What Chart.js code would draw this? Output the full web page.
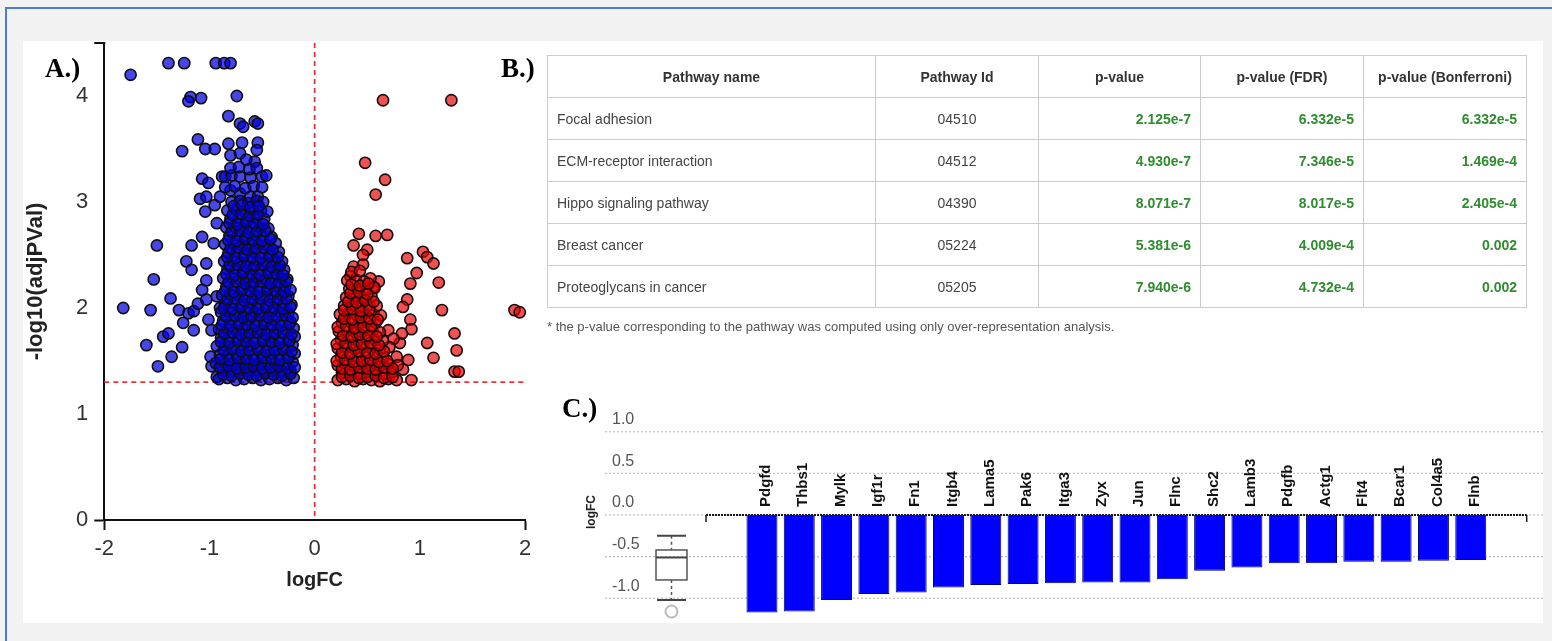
<!DOCTYPE html>
<html>
<head>
<meta charset="utf-8">
<script src="https://cdn.jsdelivr.net/npm/chart.js@4.4.0/dist/chart.umd.min.js"></script>
<style>
html,body{margin:0;padding:0;}
body{width:1552px;height:641px;background:#f2f2f2;position:relative;overflow:hidden;font-family:"Liberation Sans",Arial,sans-serif;}
#bl{position:absolute;left:5px;top:7px;width:2px;height:634px;background:#4a7ed6;}
#bt{position:absolute;left:5px;top:7px;width:1547px;height:2px;background:#4a7ed6;}
#panel{position:absolute;left:23px;top:41px;width:1520px;height:582px;background:#fff;}
.lbl{position:absolute;font-family:"Liberation Serif","Times New Roman",serif;font-weight:bold;font-size:27px;line-height:27px;color:#000;white-space:nowrap;}
canvas{position:absolute;}
#volcano{left:23px;top:41px;}
#bars{left:560px;top:395px;}
#tbl{position:absolute;left:547px;top:55px;width:979px;border-collapse:collapse;table-layout:fixed;font-size:14px;}
#tbl td,#tbl th{border:1px solid #cbcbcb;height:42px;padding:0 9px;box-sizing:border-box;white-space:nowrap;}
#tbl th{font-weight:bold;color:#333;text-align:center;}
#tbl td{color:#444;}
#tbl td.id{text-align:center;}
#tbl td.v{text-align:right;color:#2f8c2f;font-weight:bold;}
#note{position:absolute;left:547px;top:319px;font-size:13px;line-height:15px;color:#555;white-space:nowrap;}
</style>
</head>
<body>
<div id="bl"></div><div id="bt"></div>
<div id="panel"></div>
<canvas id="volcano" width="530" height="582"></canvas>
<canvas id="bars" width="983" height="228"></canvas>
<table id="tbl"><colgroup><col style="width:328px"><col style="width:163px"><col style="width:162px"><col style="width:163px"><col style="width:163px"></colgroup><thead><tr id="hdr"></tr></thead><tbody id="tb"></tbody></table>
<div id="note"></div>
<div class="lbl" style="left:45px;top:55px;">A.)</div>
<div class="lbl" style="left:501px;top:55px;">B.)</div>
<div class="lbl" style="left:562px;top:395px;">C.)</div>
<script>
// ---------------- Panel A: volcano data (logFC, -log10 adjusted p) ----------------
const downRegulated = [
[-1.75,4.20],[-1.39,4.31],[-1.24,4.31],[-0.94,4.31],[-0.86,4.31],[-0.80,4.31],
[-1.18,3.99],[-1.08,3.98],[-1.20,3.95],[-0.74,4.00],
[-0.82,3.81],[-0.71,3.74],[-0.57,3.76],[-0.54,3.74],[-0.68,3.71],
[-1.11,3.59],[-1.26,3.48],[-1.04,3.50],[-0.95,3.50],[-0.82,3.55],[-0.69,3.56],[-0.54,3.56],
[-0.80,3.44],[-0.71,3.46],[-0.57,3.38],[-0.55,3.49],[-0.65,3.40],
[-0.88,3.24],[-0.85,3.24],[-0.79,3.25],[-0.71,3.24],[-0.61,3.23],[-0.50,3.24],[-0.46,3.25],
[-1.07,3.22],[-1.01,3.18],[-1.09,3.03],[-1.03,3.05],[-1.04,2.91],[-0.95,2.97],[-0.90,3.05],
[-0.80,3.11],[-0.71,3.08],[-0.61,3.05],[-0.54,3.05],[-0.93,2.80],
[-1.82,2.00],[-1.50,2.59],[-1.53,2.27],[-1.56,1.98],[-1.60,1.65],[-1.49,1.45],[-1.36,1.54],
[-1.26,1.63],[-1.44,1.73],[-1.39,1.76],[-1.37,2.09],[-1.29,1.98],[-1.20,1.95],[-1.15,1.97],
[-1.11,2.04],[-1.03,2.08],[-1.22,2.44],[-1.17,2.36],[-1.17,2.59],[-1.07,2.67],[-1.25,1.86],
[-1.15,1.79],[-1.01,1.89],[-0.98,1.79],[-1.03,2.26],[-1.03,2.42],[-0.96,2.61],[-1.07,2.17],
[-0.99,1.54],[-0.98,1.45],[-0.90,2.00],[-0.93,2.11],[-0.93,1.35],
[-0.91,1.33],[-0.83,1.34],[-0.75,1.32],[-0.67,1.33],[-0.59,1.34],[-0.51,1.32],[-0.43,1.33],[-0.35,1.34],[-0.27,1.32],[-0.20,1.34],
[-0.87,1.41],[-0.79,1.40],[-0.71,1.42],[-0.63,1.40],[-0.55,1.41],[-0.47,1.40],[-0.39,1.42],[-0.31,1.40],[-0.23,1.41],
[-0.94,1.48],[-0.86,1.49],[-0.78,1.47],[-0.70,1.49],[-0.62,1.48],[-0.54,1.47],[-0.46,1.49],[-0.38,1.48],[-0.30,1.47],[-0.21,1.49],
[-0.90,1.56],[-0.82,1.57],[-0.74,1.55],[-0.66,1.57],[-0.58,1.56],[-0.50,1.55],[-0.42,1.57],[-0.34,1.56],[-0.26,1.55],[-0.19,1.57],
[-0.93,1.64],[-0.85,1.65],[-0.77,1.63],[-0.69,1.65],[-0.61,1.64],[-0.53,1.63],[-0.45,1.65],[-0.37,1.64],[-0.29,1.63],[-0.21,1.65],
[-0.89,1.72],[-0.81,1.73],[-0.73,1.71],[-0.65,1.73],[-0.57,1.72],[-0.49,1.71],[-0.41,1.73],[-0.33,1.72],[-0.25,1.71],[-0.19,1.73],
[-0.91,1.80],[-0.83,1.81],[-0.75,1.79],[-0.67,1.81],[-0.59,1.80],[-0.51,1.79],[-0.43,1.81],[-0.35,1.80],[-0.27,1.79],[-0.20,1.81],
[-0.87,1.88],[-0.79,1.89],[-0.71,1.87],[-0.63,1.89],[-0.55,1.88],[-0.47,1.87],[-0.39,1.89],[-0.31,1.88],[-0.23,1.87],
[-0.89,1.96],[-0.81,1.97],[-0.73,1.95],[-0.65,1.97],[-0.57,1.96],[-0.49,1.95],[-0.41,1.97],[-0.33,1.96],[-0.25,1.95],
[-0.85,2.04],[-0.77,2.05],[-0.69,2.03],[-0.61,2.05],[-0.53,2.04],[-0.45,2.03],[-0.37,2.05],[-0.29,2.04],[-0.22,2.03],
[-0.88,2.12],[-0.80,2.13],[-0.72,2.11],[-0.64,2.13],[-0.56,2.12],[-0.48,2.11],[-0.40,2.13],[-0.32,2.12],[-0.25,2.11],
[-0.84,2.20],[-0.76,2.21],[-0.68,2.19],[-0.60,2.21],[-0.52,2.20],[-0.44,2.19],[-0.36,2.21],[-0.28,2.20],
[-0.87,2.28],[-0.79,2.29],[-0.71,2.27],[-0.63,2.29],[-0.55,2.28],[-0.47,2.27],[-0.39,2.29],[-0.32,2.28],[-0.26,2.27],
[-0.83,2.36],[-0.75,2.37],[-0.67,2.35],[-0.59,2.37],[-0.51,2.36],[-0.43,2.35],[-0.35,2.37],[-0.29,2.36],
[-0.86,2.44],[-0.78,2.45],[-0.70,2.43],[-0.62,2.45],[-0.54,2.44],[-0.46,2.43],[-0.38,2.45],[-0.31,2.44],
[-0.82,2.52],[-0.74,2.53],[-0.66,2.51],[-0.58,2.53],[-0.50,2.52],[-0.42,2.51],[-0.34,2.53],
[-0.85,2.60],[-0.77,2.61],[-0.69,2.59],[-0.61,2.61],[-0.53,2.60],[-0.45,2.59],[-0.37,2.61],
[-0.81,2.68],[-0.73,2.69],[-0.65,2.67],[-0.57,2.69],[-0.49,2.68],[-0.41,2.67],
[-0.84,2.76],[-0.76,2.77],[-0.68,2.75],[-0.60,2.77],[-0.52,2.76],[-0.44,2.75],
[-0.80,2.84],[-0.72,2.85],[-0.64,2.83],[-0.56,2.85],[-0.48,2.84],
[-0.83,2.92],[-0.75,2.93],[-0.67,2.91],[-0.59,2.93],[-0.51,2.92],[-0.45,2.91],
[-0.79,3.00],[-0.71,3.01],[-0.63,2.99],[-0.55,3.01],[-0.49,3.00],
[-0.85,3.14],[-0.76,3.15],[-0.66,3.13],[-0.58,3.15],[-0.50,3.14],
[-0.80,3.32],[-0.72,3.33],[-0.62,3.31],[-0.55,3.32],
[-0.87,1.37],[-0.79,1.36],[-0.71,1.38],[-0.63,1.37],[-0.55,1.36],[-0.47,1.38],[-0.39,1.37],[-0.31,1.36],[-0.23,1.38],
[-0.90,1.44],[-0.82,1.45],[-0.74,1.43],[-0.66,1.44],[-0.58,1.45],[-0.50,1.43],[-0.42,1.44],[-0.34,1.45],[-0.26,1.43],[-0.19,1.44],
[-0.89,1.52],[-0.81,1.51],[-0.73,1.53],[-0.65,1.52],[-0.57,1.51],[-0.49,1.53],[-0.41,1.52],[-0.33,1.51],[-0.25,1.53],
[-0.86,1.60],[-0.78,1.61],[-0.70,1.59],[-0.62,1.60],[-0.54,1.61],[-0.46,1.59],[-0.38,1.60],[-0.30,1.61],[-0.22,1.59],
[-0.89,1.68],[-0.81,1.67],[-0.73,1.69],[-0.65,1.68],[-0.57,1.67],[-0.49,1.69],[-0.41,1.68],[-0.33,1.67],[-0.24,1.69],
[-0.86,1.76],[-0.78,1.77],[-0.70,1.75],[-0.62,1.76],[-0.54,1.77],[-0.46,1.75],[-0.38,1.76],[-0.30,1.77],[-0.22,1.75],
[-0.88,1.84],[-0.80,1.83],[-0.72,1.85],[-0.64,1.84],[-0.56,1.83],[-0.48,1.85],[-0.40,1.84],[-0.32,1.83],[-0.24,1.85],
[-0.84,1.92],[-0.76,1.93],[-0.68,1.91],[-0.60,1.92],[-0.52,1.93],[-0.44,1.91],[-0.36,1.92],[-0.28,1.93],[-0.21,1.91],
[-0.86,2.00],[-0.78,1.99],[-0.70,2.01],[-0.62,2.00],[-0.54,1.99],[-0.46,2.01],[-0.38,2.00],[-0.30,1.99],[-0.23,2.01],
[-0.83,2.08],[-0.75,2.09],[-0.67,2.07],[-0.59,2.08],[-0.51,2.09],[-0.43,2.07],[-0.35,2.08],[-0.27,2.09],
[-0.85,2.16],[-0.77,2.15],[-0.69,2.17],[-0.61,2.16],[-0.53,2.15],[-0.45,2.17],[-0.37,2.16],[-0.29,2.15],[-0.23,2.17],
[-0.82,2.24],[-0.74,2.25],[-0.66,2.23],[-0.58,2.24],[-0.50,2.25],[-0.42,2.23],[-0.34,2.24],[-0.27,2.25],
[-0.84,2.32],[-0.76,2.31],[-0.68,2.33],[-0.60,2.32],[-0.52,2.31],[-0.44,2.33],[-0.36,2.32],[-0.30,2.31],
[-0.81,2.40],[-0.73,2.41],[-0.65,2.39],[-0.57,2.40],[-0.49,2.41],[-0.41,2.39],[-0.33,2.40],
[-0.83,2.48],[-0.75,2.47],[-0.67,2.49],[-0.59,2.48],[-0.51,2.47],[-0.43,2.49],[-0.35,2.48],
[-0.80,2.56],[-0.72,2.57],[-0.64,2.55],[-0.56,2.56],[-0.48,2.57],[-0.40,2.55],
[-0.82,2.64],[-0.74,2.63],[-0.66,2.65],[-0.58,2.64],[-0.50,2.63],[-0.42,2.65],
[-0.79,2.72],[-0.71,2.73],[-0.63,2.71],[-0.55,2.72],[-0.47,2.73],
[-0.81,2.80],[-0.73,2.79],[-0.65,2.81],[-0.57,2.80],[-0.49,2.79],
[-0.78,2.88],[-0.70,2.89],[-0.62,2.87],[-0.54,2.88],
[-0.77,2.96],[-0.69,2.97],[-0.61,2.95],[-0.53,2.96]
];
const upRegulated = [
[0.65,3.96],[1.30,3.96],[0.48,3.37],[0.67,3.21],[0.58,3.07],
[0.42,2.70],[0.58,2.68],[0.69,2.69],[0.37,2.59],[0.50,2.55],[0.46,2.50],
[0.88,2.47],[1.03,2.53],[1.07,2.48],[1.13,2.42],[0.97,2.33],[0.91,2.23],[1.18,2.24],
[0.88,2.08],[0.84,2.01],[1.21,1.98],[1.90,1.98],[1.95,1.96],[0.91,1.89],[0.92,1.80],
[1.07,1.67],[1.33,1.76],[1.35,1.60],[1.33,1.40],[1.37,1.40],[1.13,1.53],[0.92,1.32],
[0.81,1.67],[0.83,1.76],[0.89,1.51],[0.70,1.79],[0.75,1.71],[0.61,2.25],[0.56,2.20],
[0.46,2.41],[0.37,2.39],[0.34,2.30],[0.53,2.28],[0.84,1.42],[0.78,1.54],
[0.22,1.32],[0.30,1.33],[0.38,1.31],[0.46,1.33],[0.54,1.32],[0.62,1.31],[0.70,1.33],[0.78,1.32],
[0.26,1.39],[0.34,1.40],[0.42,1.38],[0.50,1.40],[0.58,1.39],[0.66,1.38],[0.74,1.40],
[0.22,1.46],[0.30,1.47],[0.38,1.45],[0.46,1.47],[0.54,1.46],[0.62,1.45],[0.70,1.47],[0.79,1.46],
[0.25,1.54],[0.33,1.55],[0.41,1.53],[0.49,1.55],[0.57,1.54],[0.65,1.53],
[0.22,1.62],[0.30,1.63],[0.38,1.61],[0.46,1.63],[0.54,1.62],[0.62,1.61],[0.71,1.63],
[0.25,1.70],[0.33,1.71],[0.41,1.69],[0.49,1.71],[0.57,1.70],[0.65,1.69],
[0.23,1.78],[0.31,1.79],[0.39,1.77],[0.47,1.79],[0.55,1.78],[0.62,1.77],
[0.26,1.86],[0.34,1.87],[0.42,1.85],[0.50,1.87],[0.58,1.86],
[0.24,1.94],[0.32,1.95],[0.40,1.93],[0.48,1.95],[0.56,1.94],[0.63,1.93],
[0.28,2.02],[0.36,2.03],[0.44,2.01],[0.52,2.03],[0.59,2.02],
[0.30,2.10],[0.38,2.11],[0.46,2.09],[0.54,2.11],
[0.33,2.18],[0.41,2.19],[0.49,2.17],[0.57,2.19],
[0.31,2.26],[0.39,2.27],[0.47,2.25],
[0.35,2.34],[0.43,2.35],
[0.26,1.35],[0.34,1.36],[0.42,1.34],[0.50,1.35],[0.58,1.36],[0.66,1.34],[0.74,1.35],
[0.26,1.43],[0.34,1.42],[0.42,1.44],[0.50,1.43],[0.58,1.42],[0.66,1.44],[0.74,1.43],
[0.21,1.50],[0.29,1.51],[0.37,1.49],[0.45,1.50],[0.53,1.51],[0.61,1.49],[0.69,1.50],
[0.26,1.58],[0.34,1.57],[0.42,1.59],[0.50,1.58],[0.58,1.57],[0.66,1.59],
[0.21,1.66],[0.29,1.67],[0.37,1.65],[0.45,1.66],[0.53,1.67],[0.61,1.65],
[0.27,1.74],[0.35,1.73],[0.43,1.75],[0.51,1.74],[0.59,1.73],
[0.22,1.82],[0.30,1.83],[0.38,1.81],[0.46,1.82],[0.54,1.83],
[0.28,1.90],[0.36,1.89],[0.44,1.91],[0.52,1.90],[0.60,1.89],
[0.28,1.98],[0.36,1.99],[0.44,1.97],[0.52,1.98],
[0.32,2.06],[0.40,2.05],[0.48,2.07],[0.56,2.06],
[0.34,2.14],[0.42,2.15],[0.50,2.13],
[0.35,2.22],[0.43,2.21],[0.51,2.23]
];
const pThreshold = 1.3;      // -log10(0.05)
const fcThreshold = 0;

// ---------------- Panel B: KEGG pathway table ----------------
const tableHeaders = ['Pathway name','Pathway Id','p-value','p-value (FDR)','p-value (Bonferroni)'];
const pathwayNames = ['Focal adhesion','ECM-receptor interaction','Hippo signaling pathway','Breast cancer','Proteoglycans in cancer'];
const pathwayIds = ['04510','04512','04390','05224','05205'];
const pValues = ['2.125e-7','4.930e-7','8.071e-7','5.381e-6','7.940e-6'];
const fdrValues = ['6.332e-5','7.346e-5','8.017e-5','4.009e-4','4.732e-4'];
const bonferroniValues = ['6.332e-5','1.469e-4','2.405e-4','0.002','0.002'];
const footnote = '* the p-value corresponding to the pathway was computed using only over-representation analysis.';

// ---------------- Panel C: gene logFC bars ----------------
const genes = ['Pdgfd','Thbs1','Mylk','Igf1r','Fn1','Itgb4','Lama5','Pak6','Itga3','Zyx','Jun','Flnc','Shc2','Lamb3','Pdgfb','Actg1','Flt4','Bcar1','Col4a5','Flnb'];
const geneLogFC = [-1.17,-1.16,-1.02,-0.95,-0.93,-0.87,-0.84,-0.83,-0.82,-0.81,-0.81,-0.77,-0.67,-0.63,-0.58,-0.58,-0.56,-0.56,-0.55,-0.54];
const boxSummary = [-1.02,-0.78,-0.51,-0.42,-0.25]; // low whisker, Q1, median, Q3, high whisker
const boxOutliers = [-1.16];

// ---------------- build table ----------------
document.getElementById('hdr').innerHTML = tableHeaders.map(h => '<th>' + h + '</th>').join('');
document.getElementById('tb').innerHTML = pathwayNames.map((n, i) =>
  '<tr><td>' + n + '</td><td class="id">' + pathwayIds[i] + '</td><td class="v">' + pValues[i] +
  '</td><td class="v">' + fdrValues[i] + '</td><td class="v">' + bonferroniValues[i] + '</td></tr>').join('');
document.getElementById('note').textContent = footnote;

Chart.defaults.font.family = '"Liberation Sans", Arial, sans-serif';

// ---------------- volcano chart ----------------
const volcanoGuides = {
  id: 'volcanoGuides',
  beforeDatasetsDraw(chart) {
    const {ctx, chartArea, scales: {x, y}} = chart;
    ctx.save();
    ctx.strokeStyle = '#e4343c';
    ctx.lineWidth = 1.8;
    ctx.setLineDash([5, 4]);
    const yy = y.getPixelForValue(pThreshold);
    ctx.beginPath(); ctx.moveTo(x.getPixelForValue(x.min), yy); ctx.lineTo(x.getPixelForValue(x.max), yy); ctx.stroke();
    const xx = x.getPixelForValue(fcThreshold);
    ctx.beginPath(); ctx.moveTo(xx, chartArea.top); ctx.lineTo(xx, chartArea.bottom); ctx.stroke();
    ctx.restore();
  },
  afterDraw(chart) {
    const {ctx, chartArea, scales: {y}} = chart;
    ctx.save();
    ctx.strokeStyle = '#111';
    ctx.lineWidth = 2;
    const yt = y.getPixelForValue(y.max);
    ctx.beginPath(); ctx.moveTo(chartArea.left - 10, yt); ctx.lineTo(chartArea.left + 1, yt); ctx.stroke();
    ctx.restore();
  }
};

new Chart(document.getElementById('volcano'), {
  type: 'scatter',
  data: {
    datasets: [
      {data: downRegulated.map(p => ({x: p[0], y: p[1]})), backgroundColor: 'rgba(0,0,225,0.72)', borderColor: '#101010', borderWidth: 1.6, pointRadius: 5.6, clip: false},
      {data: upRegulated.map(p => ({x: p[0], y: p[1]})), backgroundColor: 'rgba(230,0,0,0.68)', borderColor: '#1a0c0c', borderWidth: 1.6, pointRadius: 5.6, clip: false}
    ]
  },
  options: {
    responsive: false, animation: false, events: [],
    layout: {autoPadding: false, padding: {left: 0, top: 2, right: 28, bottom: 0}},
    plugins: {legend: {display: false}, tooltip: {enabled: false}},
    scales: {
      x: {
        type: 'linear', min: -2, max: 2,
        ticks: {stepSize: 1, includeBounds: false, color: '#333', font: {size: 22}, padding: 6},
        grid: {drawOnChartArea: false, drawTicks: true, tickLength: 10, tickWidth: 2,
               tickColor: c => (c.tick && Math.abs(Math.abs(c.tick.value) - 2) < 1e-9) ? '#111' : 'rgba(0,0,0,0)'},
        border: {display: true, color: '#111', width: 2},
        title: {display: true, text: 'logFC', color: '#222', font: {size: 20, weight: 'bold'}, padding: {top: 0, bottom: 31}},
        afterFit: s => { s.height = 103; }
      },
      y: {
        type: 'linear', min: 0, max: 4.5,
        ticks: {stepSize: 1, includeBounds: false, color: '#333', font: {size: 22}, padding: 6},
        grid: {drawOnChartArea: false, drawTicks: true, tickLength: 10, tickWidth: 2,
               tickColor: c => (c.tick && c.tick.value === 0) ? '#111' : 'rgba(0,0,0,0)'},
        border: {display: true, color: '#111', width: 2},
        title: {display: true, text: '-log10(adjPVal)', color: '#222', font: {size: 22, weight: 'bold'}, padding: {top: 0, bottom: 0}},
        afterFit: s => { s.width = 81.3; s.paddingTop = 0; s.paddingBottom = 0; }
      }
    }
  },
  plugins: [volcanoGuides]
});

// ---------------- bar chart ----------------
const barDecor = {
  id: 'barDecor',
  beforeDatasetsDraw(chart) {
    const {ctx, chartArea, scales: {y}} = chart;
    ctx.save();
    ctx.strokeStyle = '#c2c2c2';
    ctx.lineWidth = 1.3;
    ctx.setLineDash([2, 2]);
    y.ticks.forEach(t => {
      const py = y.getPixelForValue(t.value);
      ctx.beginPath(); ctx.moveTo(chartArea.left - 101, py); ctx.lineTo(chart.width, py); ctx.stroke();
    });
    const y0 = y.getPixelForValue(0);
    ctx.strokeStyle = '#1a1a1a';
    ctx.lineWidth = 2;
    ctx.setLineDash([2, 1]);
    ctx.beginPath(); ctx.moveTo(chartArea.left, y0); ctx.lineTo(chartArea.right, y0); ctx.stroke();
    ctx.setLineDash([]);
    ctx.lineWidth = 1.5;
    [chartArea.left, chartArea.right].forEach(px => { ctx.beginPath(); ctx.moveTo(px, y0); ctx.lineTo(px, y0 + 7); ctx.stroke(); });

    // box plot of logFC distribution
    const cx = chartArea.left - 34.5;
    const bw = 31, cw = 29;
    const [lo, q1, med, q3, hi] = boxSummary.map(v => y.getPixelForValue(v));
    ctx.strokeStyle = '#555';
    ctx.lineWidth = 1.5;
    ctx.setLineDash([3, 3]);
    ctx.beginPath(); ctx.moveTo(cx, hi); ctx.lineTo(cx, q3); ctx.moveTo(cx, q1); ctx.lineTo(cx, lo); ctx.stroke();
    ctx.setLineDash([]);
    ctx.strokeRect(cx - bw / 2, q3, bw, q1 - q3);
    ctx.lineWidth = 2;
    ctx.strokeStyle = '#444';
    ctx.beginPath(); ctx.moveTo(cx - bw / 2, med); ctx.lineTo(cx + bw / 2, med); ctx.stroke();
    ctx.beginPath(); ctx.moveTo(cx - cw / 2, hi); ctx.lineTo(cx + cw / 2, hi); ctx.moveTo(cx - cw / 2, lo); ctx.lineTo(cx + cw / 2, lo); ctx.stroke();
    ctx.strokeStyle = '#bbb';
    boxOutliers.forEach(v => { ctx.beginPath(); ctx.arc(cx, y.getPixelForValue(v), 6, 0, Math.PI * 2); ctx.stroke(); });
    ctx.restore();
  },
  afterDatasetsDraw(chart) {
    const {ctx, scales: {x, y}} = chart;
    const y0 = y.getPixelForValue(0);
    ctx.save();
    ctx.fillStyle = '#111';
    ctx.font = 'bold 15px "Liberation Sans", Arial, sans-serif';
    ctx.textAlign = 'left';
    ctx.textBaseline = 'middle';
    genes.forEach((g, i) => {
      const px = x.getPixelForValue(i + 1);
      ctx.save();
      ctx.translate(px + 4, y0 - 8);
      ctx.rotate(-Math.PI / 2);
      ctx.fillText(g, 0, 0);
      ctx.restore();
    });
    // y axis title
    ctx.font = 'bold 12px "Liberation Sans", Arial, sans-serif';
    ctx.fillStyle = '#222';
    ctx.textAlign = 'center';
    ctx.translate(32, 117);
    ctx.rotate(-Math.PI / 2);
    ctx.fillText('logFC', 0, 0);
    ctx.restore();
  }
};

new Chart(document.getElementById('bars'), {
  type: 'bar',
  data: {
    labels: [''].concat(genes, ['']),
    datasets: [{
      data: [null].concat(geneLogFC, [null]),
      backgroundColor: '#0000ff', borderColor: '#00006e', borderWidth: 1,
      barPercentage: 0.83, categoryPercentage: 1
    }]
  },
  options: {
    responsive: false, animation: false, events: [],
    layout: {padding: {left: 52, top: 28.4, right: 16.3, bottom: 3.9}},
    plugins: {legend: {display: false}, tooltip: {enabled: false}},
    scales: {
      x: {display: false},
      y: {
        min: -1.25, max: 1.1,
        ticks: {stepSize: 0.5, includeBounds: false, color: '#555', font: {size: 16}, padding: 0,
                crossAlign: 'far', labelOffset: -12, callback: v => Number(v).toFixed(1)},
        grid: {display: false, drawTicks: false},
        border: {display: false},
        afterFit: s => { s.width = 94; s.paddingTop = 0; s.paddingBottom = 0; }
      }
    }
  },
  plugins: [barDecor]
});
</script>
</body>
</html>
